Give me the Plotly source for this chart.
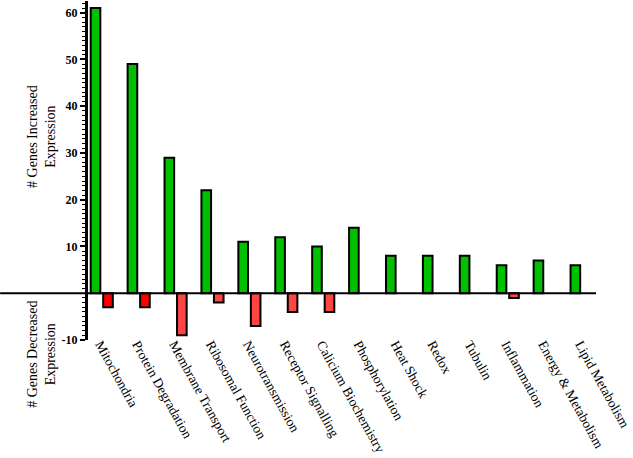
import plotly.graph_objects as go

categories = ["Mitochondria", "Protein Degradation", "Membrane Transport", "Ribosomal Function",
              "Neurotransmission", "Receptor Signalling", "Calicium Biochemistry", "Phosphorylation",
              "Heat Shock", "Redox", "Tubulin", "Inflammation", "Energy & Metabolism", "Lipid Metabolism"]
increased = [61, 49, 29, 22, 11, 12, 10, 14, 8, 8, 8, 6, 7, 6]
decreased = [-3, -3, -9, -2, -7, -4, -4, None, None, None, None, -1, None, None]
red_colors = ["#FF0000", "#FF0000"] + ["#FF4444"] * 12
ytick_vals = [-10, 10, 20, 30, 40, 50, 60]
ytick_text = ["-10", "10", "20", "30", "40", "50", "60"]

fig = go.Figure()
fig.add_trace(go.Bar(x=categories, y=increased, marker=dict(color="#00C000", line=dict(color="black", width=2))))
fig.add_trace(go.Bar(x=categories, y=decreased, marker=dict(color=red_colors, line=dict(color="black", width=2))))

fig.update_layout(
    width=633, height=458,
    margin=dict(l=88, r=37, t=1, b=118, autoexpand=False),
    plot_bgcolor="white", paper_bgcolor="white",
    showlegend=False,
    barmode="group", bargap=0.323, bargroupgap=0.23,
    font=dict(family="Liberation Serif", color="black"),
)
fig.update_xaxes(
    type="category", range=[-0.373, 13.39], showline=False, showgrid=False, zeroline=False,
    ticks="", tickangle=61, ticklabelstandoff=-7, ticklabelshift=-1,
    tickfont=dict(family="Liberation Serif", size=13.5, color="black"),
)
fig.update_yaxes(
    range=[-10, 62.5], showgrid=False, zeroline=False,
    showline=True, linecolor="black", linewidth=3,
    tickvals=ytick_vals, ticktext=ytick_text,
    ticks="outside", ticklen=5, tickwidth=2, tickcolor="black",
    tickfont=dict(family="Liberation Serif", size=12, color="black", weight="bold"),
    minor=dict(dtick=1, ticks="outside", ticklen=3, tickwidth=1, tickcolor="black"),
)
fig.add_shape(type="line", xref="paper", yref="y", x0=-0.173, x1=1.0, y0=0, y1=0,
              line=dict(color="black", width=2))
fig.add_annotation(xref="paper", yref="paper", x=-0.0906, y=0.602, xanchor="center", yanchor="middle",
                   text="# Genes Increased<br>Expression",
                   textangle=-90, showarrow=False, font=dict(family="Liberation Serif", size=14, color="black"))
fig.add_annotation(xref="paper", yref="paper", x=-0.0906, y=-0.041, xanchor="center", yanchor="middle",
                   text="# Genes Decreased<br>Expression",
                   textangle=-90, showarrow=False, font=dict(family="Liberation Serif", size=14, color="black"))
fig.write_html("out.html", config={"displayModeBar": False},
               post_script="document.body.style.margin='0';")
